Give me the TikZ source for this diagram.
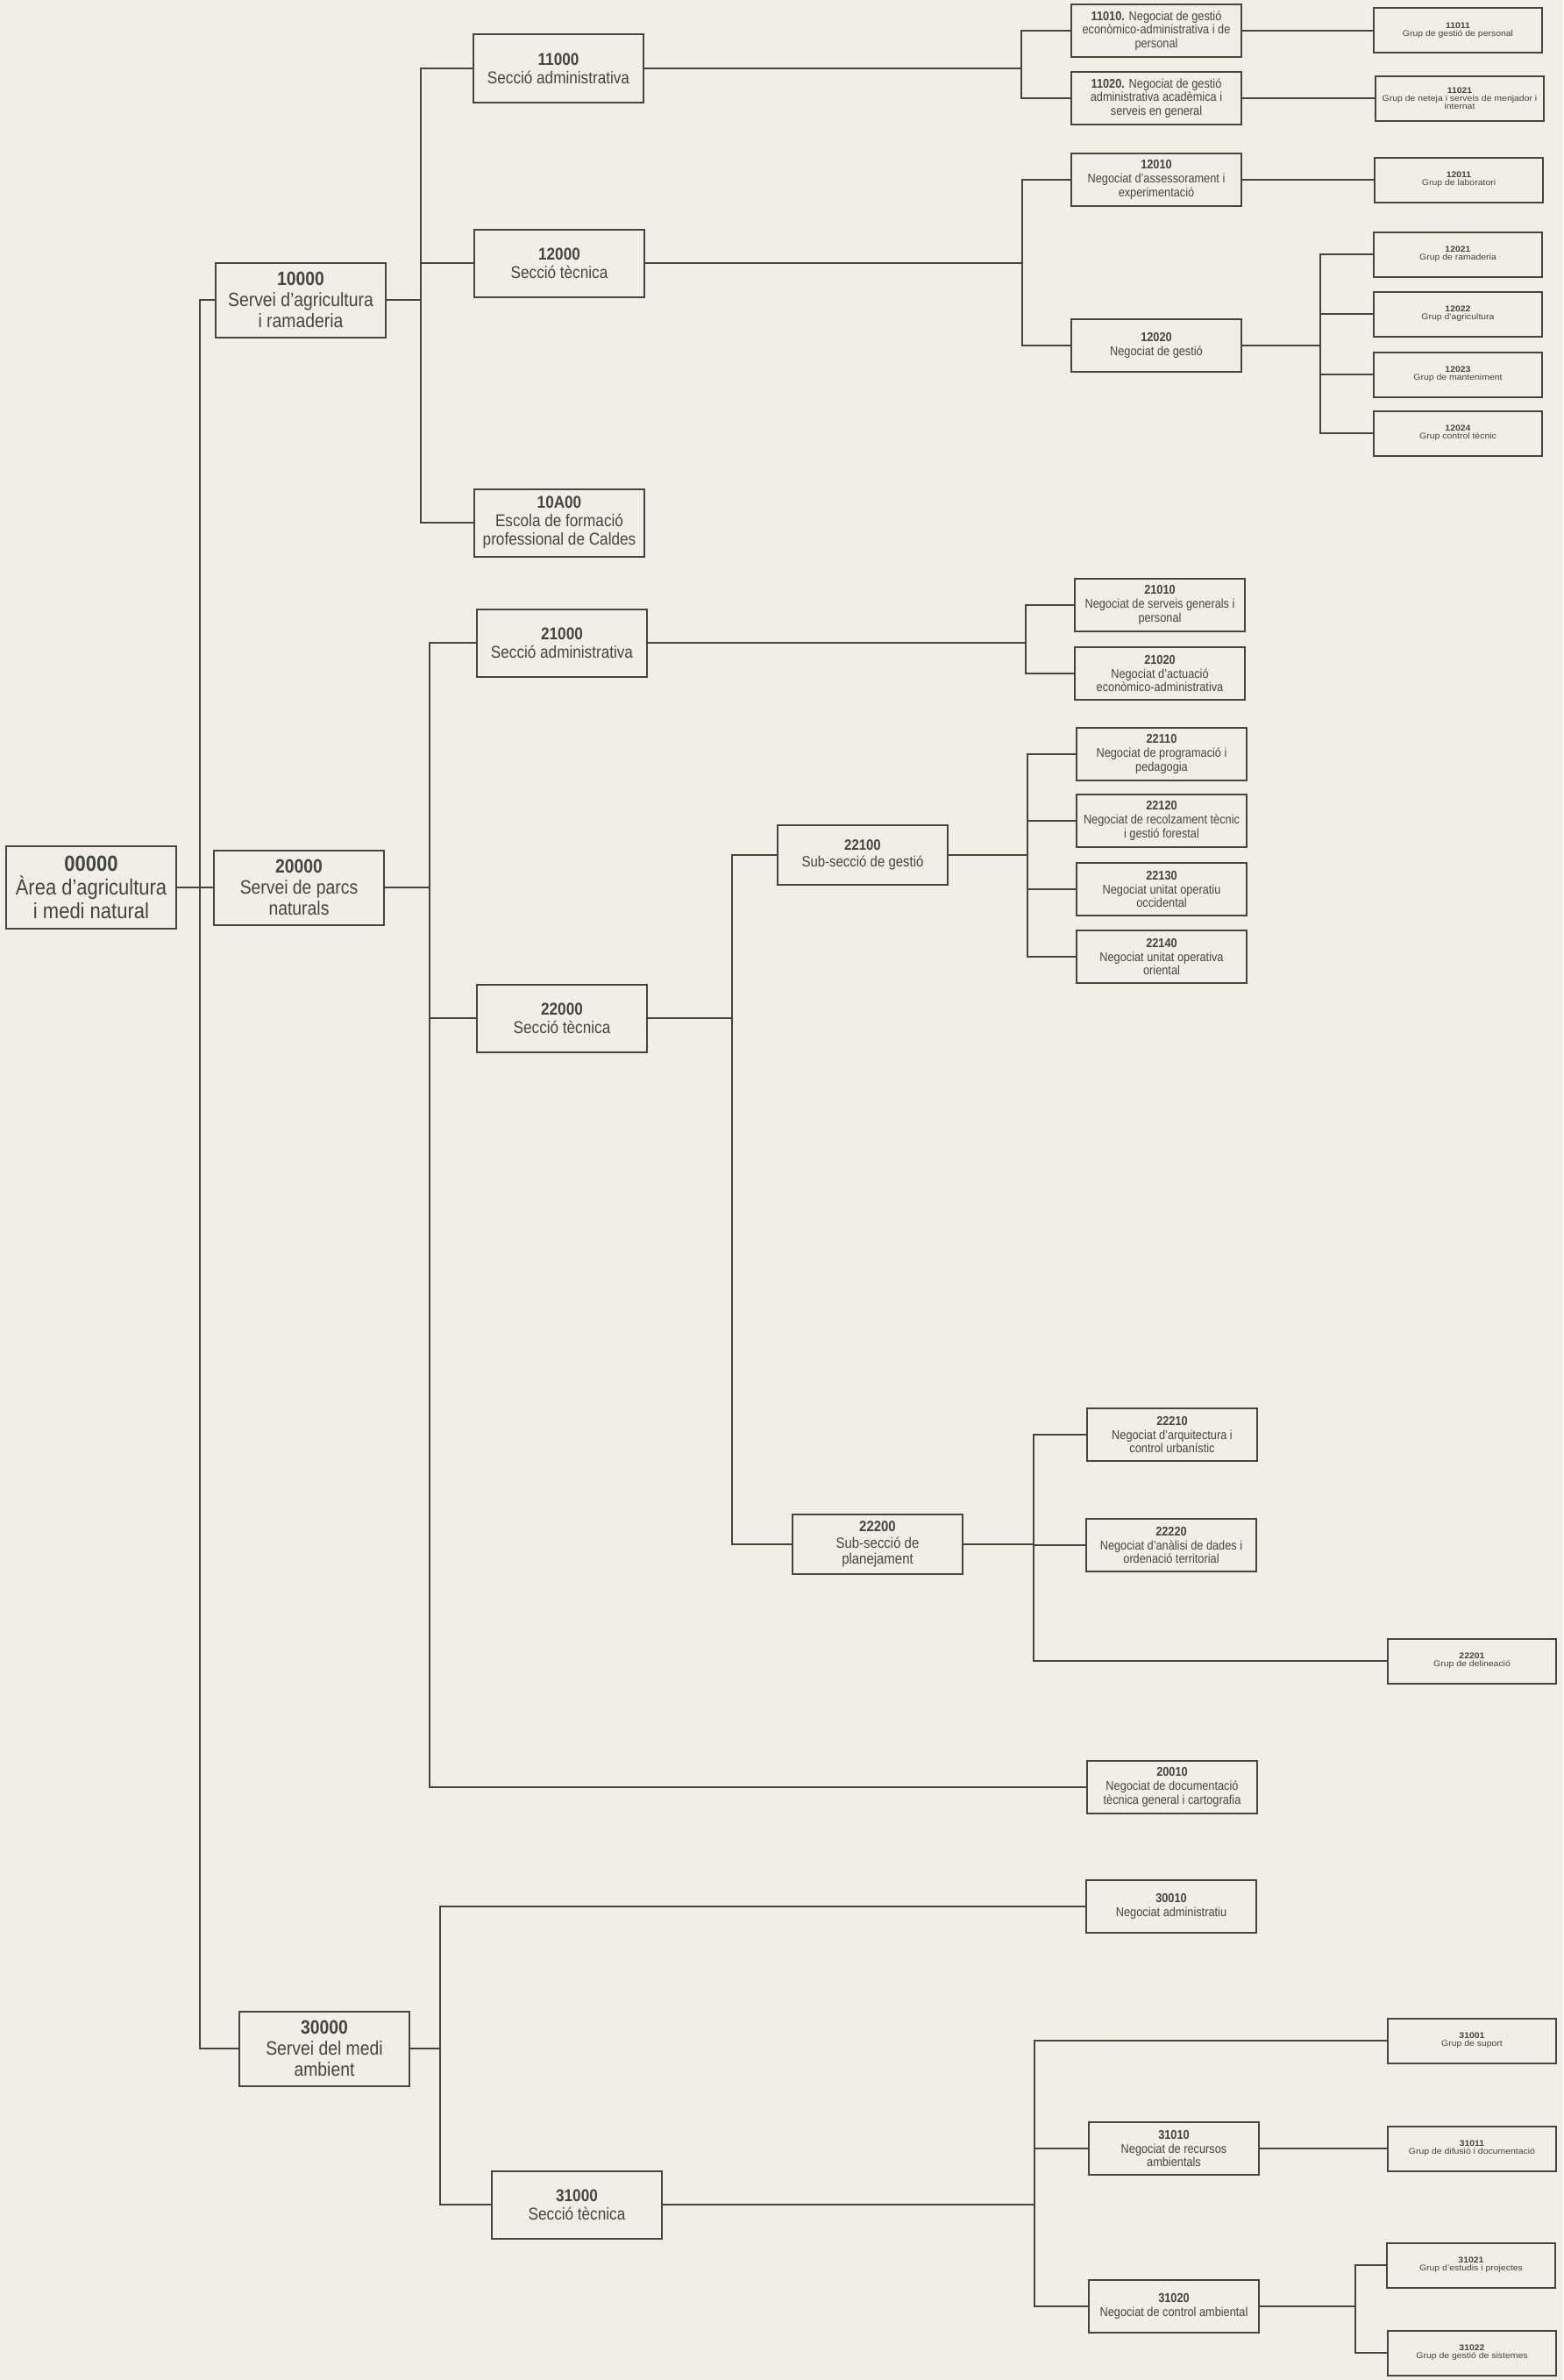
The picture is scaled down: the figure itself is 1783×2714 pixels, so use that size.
\documentclass[tikz,border=0pt]{standalone}
\usepackage{fontspec}
\usepackage{xcolor}
\usepackage{tikz}
\usetikzlibrary{calc}
\newfontfamily\orgfont[FakeStretch=0.88]{Liberation Sans}
\newfontfamily\grupfont[FakeStretch=1.1]{Liberation Sans}
\definecolor{paper}{RGB}{240,238,229}
\definecolor{ink}{RGB}{68,68,66}

\begin{document}
\begin{tikzpicture}[
    x=1pt, y=-1pt,
    unit/.style={rectangle, draw=ink, line width=2pt, fill=paper, text=ink, inner sep=0pt, align=center, minimum width=194pt},
    area/.style={unit, minimum height=94pt, font=\orgfont\fontsize{25}{27}\selectfont},
    servei/.style={unit, minimum height=85pt, font=\orgfont\fontsize{22}{24}\selectfont},
    seccio/.style={unit, minimum height=77pt, font=\orgfont\fontsize{19.5}{21}\selectfont},
    subseccio/.style={unit, minimum height=68pt, font=\orgfont\fontsize{17}{18.5}\selectfont},
    negociat/.style={unit, minimum height=60pt, font=\orgfont\fontsize{14.5}{15.6}\selectfont},
    grup/.style={unit, minimum width=192pt, minimum height=51pt, font=\grupfont\fontsize{9.5}{9}\selectfont},
    link/.style={draw=ink, line width=2pt}
]
    \useasboundingbox (0,0) rectangle (1783,2714);
    \fill[paper] (0,0) rectangle (1783,2714);

    % area and serveis
    \node[area] (n00000) at (104,1012) {\textbf{00000}\\Àrea d’agricultura\\i medi natural};
    \node[servei] (n10000) at (343,342) {\textbf{10000}\\Servei d’agricultura\\i ramaderia};
    \node[servei] (n20000) at (341,1012) {\textbf{20000}\\Servei de parcs\\naturals};
    \node[servei] (n30000) at (370,2336) {\textbf{30000}\\Servei del medi\\ambient};

    % seccions
    \node[seccio] (n11000) at (637,78) {\textbf{11000}\\Secció administrativa};
    \node[seccio] (n12000) at (638,300) {\textbf{12000}\\Secció tècnica};
    \node[seccio] (n10A00) at (638,596) {\textbf{10A00}\\Escola de formació\\professional de Caldes};
    \node[seccio] (n21000) at (641,733) {\textbf{21000}\\Secció administrativa};
    \node[seccio] (n22000) at (641,1161) {\textbf{22000}\\Secció tècnica};
    \node[seccio] (n31000) at (658,2514) {\textbf{31000}\\Secció tècnica};
    \node[subseccio] (n22100) at (984,975) {\textbf{22100}\\Sub-secció de gestió};
    \node[subseccio] (n22200) at (1001,1761) {\textbf{22200}\\Sub-secció de\\planejament};

    % negociats
    \node[negociat] (n11010) at (1319,35) {\textbf{11010.} Negociat de gestió\\econòmico-administrativa i de\\personal};
    \node[negociat] (n11020) at (1319,112) {\textbf{11020.} Negociat de gestió\\administrativa acadèmica i\\serveis en general};
    \node[negociat] (n12010) at (1319,205) {\textbf{12010}\\Negociat d’assessorament i\\experimentació};
    \node[negociat] (n12020) at (1319,394) {\textbf{12020}\\Negociat de gestió};
    \node[negociat] (n21010) at (1323,690) {\textbf{21010}\\Negociat de serveis generals i\\personal};
    \node[negociat] (n21020) at (1323,768) {\textbf{21020}\\Negociat d’actuació\\econòmico-administrativa};
    \node[negociat] (n22110) at (1325,860) {\textbf{22110}\\Negociat de programació i\\pedagogia};
    \node[negociat] (n22120) at (1325,936) {\textbf{22120}\\Negociat de recolzament tècnic\\i gestió forestal};
    \node[negociat] (n22130) at (1325,1014) {\textbf{22130}\\Negociat unitat operatiu\\occidental};
    \node[negociat] (n22140) at (1325,1091) {\textbf{22140}\\Negociat unitat operativa\\oriental};
    \node[negociat] (n22210) at (1337,1636) {\textbf{22210}\\Negociat d’arquitectura i\\control urbanístic};
    \node[negociat] (n22220) at (1336,1762) {\textbf{22220}\\Negociat d’anàlisi de dades i\\ordenació territorial};
    \node[negociat] (n20010) at (1337,2038) {\textbf{20010}\\Negociat de documentació\\tècnica general i cartografia};
    \node[negociat] (n30010) at (1336,2174) {\textbf{30010}\\Negociat administratiu};
    \node[negociat] (n31010) at (1339,2450) {\textbf{31010}\\Negociat de recursos\\ambientals};
    \node[negociat] (n31020) at (1339,2630) {\textbf{31020}\\Negociat de control ambiental};

    % grups
    \node[grup] (n11011) at (1663,35) {\textbf{11011}\\Grup de gestió de personal};
    \node[grup] (n11021) at (1665,112) {\textbf{11021}\\Grup de neteja i serveis de menjador i\\internat};
    \node[grup] (n12011) at (1664,205) {\textbf{12011}\\Grup de laboratori};
    \node[grup] (n12021) at (1663,290) {\textbf{12021}\\Grup de ramaderia};
    \node[grup] (n12022) at (1663,358) {\textbf{12022}\\Grup d’agricultura};
    \node[grup] (n12023) at (1663,427) {\textbf{12023}\\Grup de manteniment};
    \node[grup] (n12024) at (1663,494) {\textbf{12024}\\Grup control tècnic};
    \node[grup] (n22201) at (1679,1894) {\textbf{22201}\\Grup de delineació};
    \node[grup] (n31001) at (1679,2327) {\textbf{31001}\\Grup de suport};
    \node[grup] (n31011) at (1679,2450) {\textbf{31011}\\Grup de difusió i documentació};
    \node[grup] (n31021) at (1678,2583) {\textbf{31021}\\Grup d’estudis i projectes};
    \node[grup] (n31022) at (1679,2683) {\textbf{31022}\\Grup de gestió de sistemes};

    % bus lines
    \coordinate (bus0) at (228,0);
    \coordinate (bus1) at (480,0);
    \coordinate (bus2) at (490,0);
    \coordinate (bus3) at (502,0);
    \coordinate (bus11) at (1165,0);
    \coordinate (bus12) at (1166,0);
    \coordinate (bus1202) at (1506,0);
    \coordinate (bus21) at (1170,0);
    \coordinate (bus22) at (835,0);
    \coordinate (bus221) at (1172,0);
    \coordinate (bus222) at (1179,0);
    \coordinate (bus31) at (1180,0);
    \coordinate (bus3102) at (1546,0);

    % area
    \draw[link] (n00000.east) -- (n20000.west);
    \draw[link] (n10000.west) -- (n10000.west -| bus0) -- (n30000.west -| bus0) -- (n30000.west);

    % servei d'agricultura
    \draw[link] (n10000.east) -- (n10000.east -| bus1);
    \draw[link] (n11000.west) -- (n11000.west -| bus1) -- (n10A00.west -| bus1) -- (n10A00.west);
    \draw[link] (n12000.west) -- (n12000.west -| bus1);
    \draw[link] (n11000.east) -- (n11000.east -| bus11);
    \draw[link] (n11010.west) -- (n11010.west -| bus11) -- (n11020.west -| bus11) -- (n11020.west);
    \draw[link] (n11010.east) -- (n11011.west);
    \draw[link] (n11020.east) -- (n11021.west);
    \draw[link] (n12000.east) -- (n12000.east -| bus12);
    \draw[link] (n12010.west) -- (n12010.west -| bus12) -- (n12020.west -| bus12) -- (n12020.west);
    \draw[link] (n12010.east) -- (n12011.west);
    \draw[link] (n12020.east) -- (n12020.east -| bus1202);
    \draw[link] (n12021.west) -- (n12021.west -| bus1202) -- (n12024.west -| bus1202) -- (n12024.west);
    \draw[link] (n12022.west) -- (n12022.west -| bus1202);
    \draw[link] (n12023.west) -- (n12023.west -| bus1202);

    % servei de parcs naturals
    \draw[link] (n20000.east) -- (n20000.east -| bus2);
    \draw[link] (n21000.west) -- (n21000.west -| bus2) -- (n20010.west -| bus2) -- (n20010.west);
    \draw[link] (n22000.west) -- (n22000.west -| bus2);
    \draw[link] (n21000.east) -- (n21000.east -| bus21);
    \draw[link] (n21010.west) -- (n21010.west -| bus21) -- (n21020.west -| bus21) -- (n21020.west);
    \draw[link] (n22000.east) -- (n22000.east -| bus22);
    \draw[link] (n22100.west) -- (n22100.west -| bus22) -- (n22200.west -| bus22) -- (n22200.west);
    \draw[link] (n22100.east) -- (n22100.east -| bus221);
    \draw[link] (n22110.west) -- (n22110.west -| bus221) -- (n22140.west -| bus221) -- (n22140.west);
    \draw[link] (n22120.west) -- (n22120.west -| bus221);
    \draw[link] (n22130.west) -- (n22130.west -| bus221);
    \draw[link] (n22200.east) -- (n22200.east -| bus222);
    \draw[link] (n22210.west) -- (n22210.west -| bus222) -- (n22201.west -| bus222) -- (n22201.west);
    \draw[link] (n22220.west) -- (n22220.west -| bus222);

    % servei del medi ambient
    \draw[link] (n30000.east) -- (n30000.east -| bus3);
    \draw[link] (n30010.west) -- (n30010.west -| bus3) -- (n31000.west -| bus3) -- (n31000.west);
    \draw[link] (n31000.east) -- (n31000.east -| bus31);
    \draw[link] (n31001.west) -- (n31001.west -| bus31) -- (n31020.west -| bus31) -- (n31020.west);
    \draw[link] (n31010.west) -- (n31010.west -| bus31);
    \draw[link] (n31010.east) -- (n31011.west);
    \draw[link] (n31020.east) -- (n31020.east -| bus3102);
    \draw[link] (n31021.west) -- (n31021.west -| bus3102) -- (n31022.west -| bus3102) -- (n31022.west);
\end{tikzpicture}
\end{document}
